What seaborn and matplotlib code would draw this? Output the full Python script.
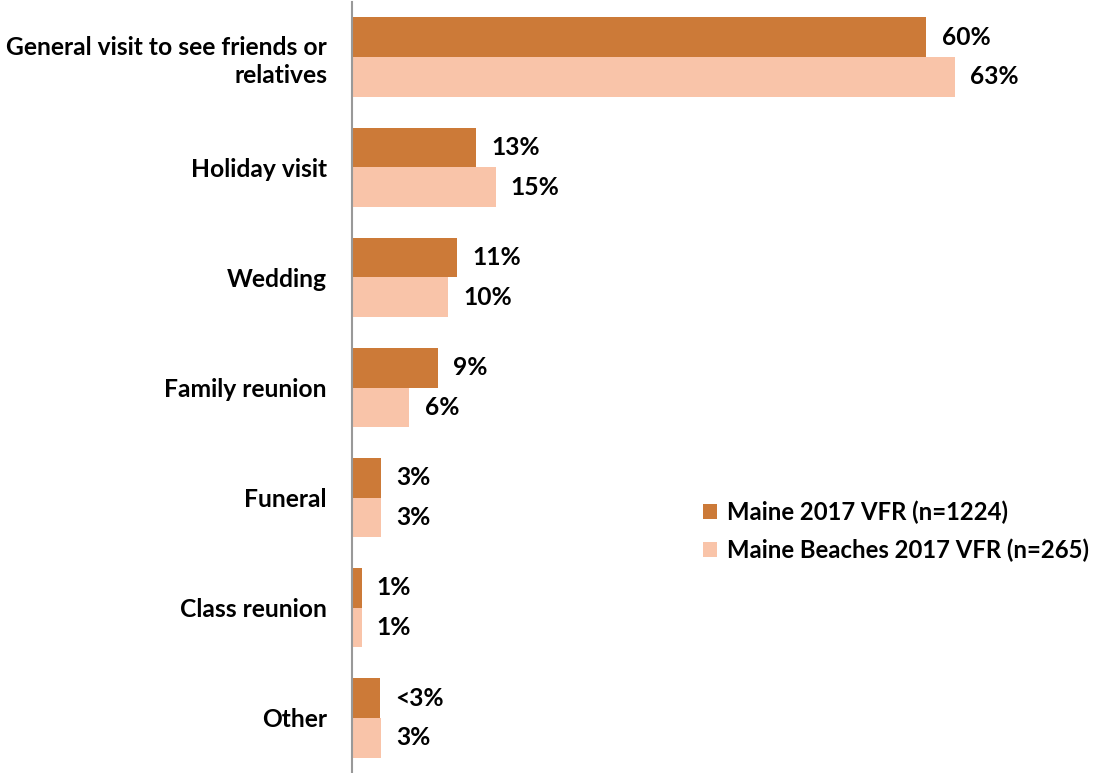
import matplotlib
matplotlib.use("Agg")
import matplotlib.pyplot as plt
import seaborn as sns
import pandas as pd

categories = [
    "General visit to see friends or\nrelatives",
    "Holiday visit",
    "Wedding",
    "Family reunion",
    "Funeral",
    "Class reunion",
    "Other",
]
series_names = ["Maine 2017 VFR (n=1224)", "Maine Beaches 2017 VFR (n=265)"]
maine_values = [60, 13, 11, 9, 3, 1, 2.9]
beaches_values = [63, 15, 10, 6, 3, 1, 3]
maine_labels = ["60%", "13%", "11%", "9%", "3%", "1%", "<3%"]
beaches_labels = ["63%", "15%", "10%", "6%", "3%", "1%", "3%"]

colors = ["#CC7A38", "#F9C4A9"]

df = pd.DataFrame({
    "category": categories * 2,
    "value": maine_values + beaches_values,
    "series": [series_names[0]] * len(categories) + [series_names[1]] * len(categories),
})

sns.set_theme(style="white")
plt.rcParams["font.family"] = ["Lato", "DejaVu Sans"]
plt.rcParams["font.weight"] = "bold"
plt.rcParams["text.color"] = "black"

FS = 17.7
W, H = 1095, 773
fig = plt.figure(figsize=(W / 100, H / 100), dpi=100)
ax = fig.add_axes([352 / W, 0, 670 / W, 771 / H])

sns.barplot(data=df, x="value", y="category", hue="series", orient="h",
            palette=colors, width=0.72, gap=0, saturation=1, ax=ax,
            order=categories, hue_order=series_names, legend=True,
            linewidth=0)

for container, labels in zip(ax.containers, [maine_labels, beaches_labels]):
    ax.bar_label(container, labels=labels, padding=11, fontsize=FS,
                 fontweight="bold", color="black")

ax.set_xlim(0, 70)
ax.set_ylim(6.5, -0.5)
ax.set_xlabel("")
ax.set_ylabel("")
ax.set_xticks([])
ax.tick_params(axis="y", length=0, pad=18)
for lbl in ax.get_yticklabels():
    lbl.set_fontsize(FS)
    lbl.set_fontweight("bold")
    lbl.set_color("black")
    lbl.set_linespacing(1.25)
    lbl.set_multialignment("right")

for side in ["top", "right", "bottom"]:
    ax.spines[side].set_visible(False)
ax.spines["left"].set_color("#999999")
ax.spines["left"].set_linewidth(1.5)

leg = ax.legend(loc="center left", bbox_to_anchor=(703 / W, 1 - 531 / H),
                bbox_transform=fig.transFigure, frameon=False,
                prop={"size": 17.2, "weight": "bold"},
                handlelength=0.6, handleheight=0.6, handletextpad=0.4,
                labelspacing=0.62, borderaxespad=0, borderpad=0)
for t in leg.get_texts():
    t.set_color("black")

fig.savefig("out.png", dpi=100)
